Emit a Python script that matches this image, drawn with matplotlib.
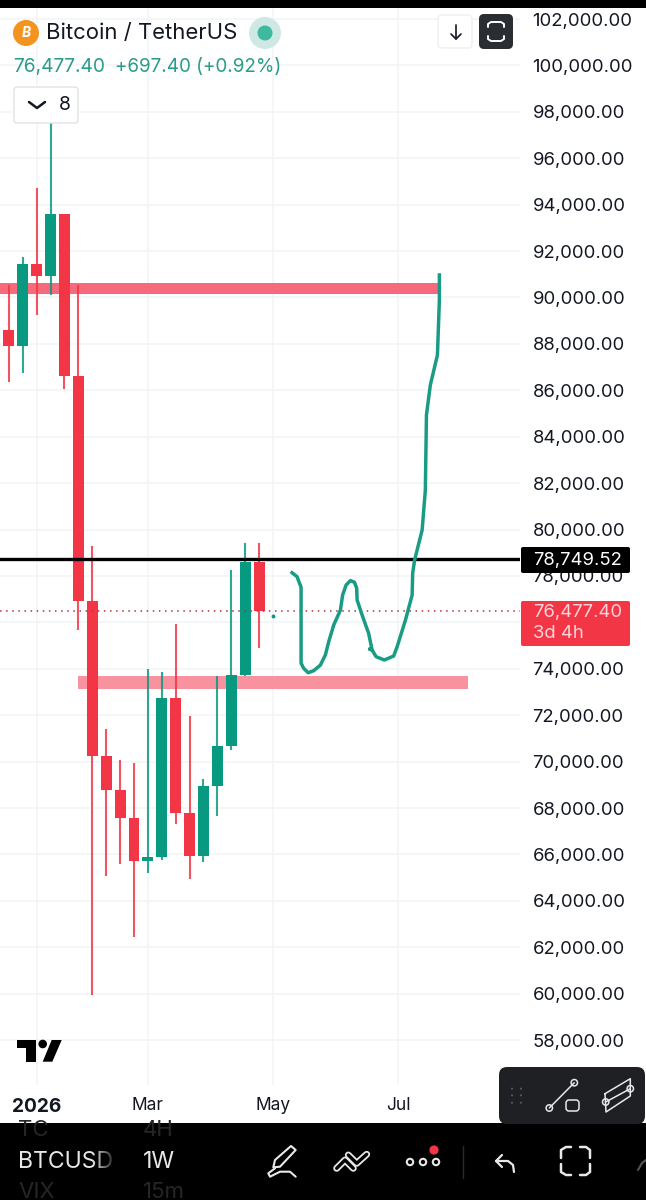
import numpy as np
import matplotlib.pyplot as plt
from matplotlib.patches import Circle, FancyBboxPatch, Polygon, Rectangle

plt.rcParams['font.family'] = ['Inter', 'DejaVu Sans']

# Weekly candles
opens = [88600, 87910, 91440, 90930, 93600, 86620, 76920, 70240, 68780, 67570,
         65720, 65890, 72740, 67790, 65930, 68950, 70670, 73730, 78600]
highs = [90540, 91750, 94720, 97860, 93600, 90540, 79290, 71410, 70070, 69940,
         73990, 73860, 75930, 71970, 69250, 73690, 78260, 79420, 79420]
lows = [86360, 86750, 89250, 90110, 86060, 75670, 59950, 65070, 65590, 62440,
        65200, 65760, 67310, 64940, 65680, 67660, 70500, 73690, 74900]
closes = [87910, 91440, 90930, 93600, 86620, 76920, 70240, 68780, 67570, 65720,
          65890, 72740, 67790, 65930, 68950, 70670, 73730, 78600, 76480]

price_ticks = list(range(58000, 102001, 2000))
hidden_tick = 76000  # sits behind the last price label
date_weeks = [2, 10, 19, 28]
date_labels = ['2026', 'Mar', 'May', 'Jul']

# Levels and the hand drawn path
last_price = 76477.40
black_level = 78749.52
upper_zone = (90150, 90620, -0.64, 30.9)
lower_zone = (73130, 73690, 5.0, 33.05)
path_weeks = [20.37, 20.73, 21.02, 21.02, 21.21, 21.53, 21.93, 22.41, 22.77, 23.01, 23.37, 23.85,
              24.01, 24.26, 24.57, 24.86, 25.02, 25.05, 25.41, 25.88, 26.13, 25.95, 26.13, 26.42,
              27.01, 27.68, 27.93, 28.53, 29.01, 29.05, 29.19, 29.73, 29.96, 30.04, 30.32, 30.83,
              30.97, 30.97]
path_prices = [78140, 77970, 77510, 74240, 74020, 73830, 73920, 74160, 74600, 75170, 75890, 76530,
               77180, 77610, 77800, 77730, 77470, 76970, 76320, 75530, 74810, 74850, 74810, 74520,
               74380, 74550, 74950, 76100, 77180, 78120, 78690, 79980, 81700, 84940, 86230, 87520,
               89890, 90970]

green = '#089981'
red = '#f23645'
ink = '#131722'

fig = plt.figure(figsize=(6.46, 12), dpi=100, facecolor='white')

# chart pane: x 0-520, y 8-1085 in pixels
ax = fig.add_axes([0, 1 - 1085 / 1200, 520 / 646, 1077 / 1200])
ax.set_xlim(-0.64, 36.77)
ax.set_ylim(56066, 102474)
for s in ax.spines.values():
    s.set_visible(False)
ax.set_axisbelow(True)
ax.grid(color='#f3f4f6', lw=1.1)
ax.yaxis.tick_right()
ax.set_yticks(price_ticks)
ax.set_yticklabels(['' if p == hidden_tick else '{:,.2f}'.format(p) for p in price_ticks],
                   fontsize=13.3, color=ink)
ax.set_xticks(date_weeks)
ax.set_xticklabels(date_labels, fontsize=12.5, color=ink)
ax.get_xticklabels()[0].set_fontweight('bold')
ax.get_xticklabels()[0].set_fontsize(13.8)
ax.tick_params(length=0)
ax.tick_params(axis='y', pad=9)
ax.tick_params(axis='x', pad=9)

for zone, col in [(upper_zone, '#f76a7c'), (lower_zone, '#f8929e')]:
    ax.add_patch(Rectangle((zone[2], zone[0]), zone[3] - zone[2], zone[1] - zone[0], fc=col, ec='none', zorder=1))

weeks = np.arange(len(opens))
colors = [green if c >= o else red for o, c in zip(opens, closes)]
bottoms = np.minimum(opens, closes)
heights = np.abs(np.array(closes) - np.array(opens))
ax.vlines(weeks, lows, highs, colors=colors, lw=1.5, alpha=0.85, zorder=2)
ax.bar(weeks, heights, bottom=bottoms, width=0.79, color=colors, zorder=3)
ax.plot([19], [76270], 'o', ms=1.8, color=green, zorder=3)

ax.axhline(black_level, color='black', lw=2.4, zorder=4)
ax.axhline(last_price, color='#b5303f', lw=1.1, ls=(0, (1, 3)), zorder=4)
ax.plot(path_weeks, path_prices, color='#1a9c84', lw=2.5, solid_joinstyle='round', zorder=5)

# screen furniture, in pixel coordinates
ui = fig.add_axes([0, 0, 1, 1], zorder=10)
ui.set_xlim(0, 646)
ui.set_ylim(1200, 0)
ui.axis('off')


def box(x0, y0, x1, y1, fc, ec='none', r=4, lw=1.0):
    ui.add_patch(FancyBboxPatch((x0 + r, y0 + r), x1 - x0 - 2 * r, y1 - y0 - 2 * r,
                                boxstyle='round,pad={},rounding_size={}'.format(r, r), fc=fc, ec=ec, lw=lw))


def stroke(xs, ys, col='white', lw=1.4):
    ui.plot(xs, ys, color=col, lw=lw, solid_capstyle='round', solid_joinstyle='round')


ui.add_patch(Rectangle((0, 0), 646, 7.5, fc='black', ec='none'))

# legend header
ui.add_patch(Circle((26, 33), 13, fc='#f2941d', ec='none'))
ui.text(26, 33, 'B', color='white', fontsize=10, fontweight='bold', style='italic', ha='center', va='center')
ui.text(46, 33, 'Bitcoin / TetherUS', color=ink, fontsize=15.9, ha='left', va='center')
ui.add_patch(Circle((265, 33), 16, fc='#d0e8e4', ec='none'))
ui.add_patch(Circle((265, 33), 7.5, fc='#3fb8a0', ec='none'))
ui.text(13, 67, '76,477.40', color='#2a9d8a', fontsize=13.8, ha='left', va='center')
ui.text(115, 67, '+697.40 (+0.92%)', color='#2a9d8a', fontsize=13.6, ha='left', va='center')
box(14, 87, 78, 123, 'white', '#e0e3e6', r=3)
stroke([29, 37, 45], [102, 108, 102], ink, 1.8)
ui.text(65, 105, '8', color=ink, fontsize=14, ha='center', va='center')

# top right buttons
box(438, 15, 472, 48, 'white', '#eeeff1', r=4)
stroke([456, 456], [25, 39], ink, 1.2)
stroke([451, 456, 461], [34, 39, 34], ink, 1.2)
box(479, 14, 513, 49, '#2a2e33', r=5)
stroke([488, 488, 491, 501, 504, 504], [27, 24, 22, 22, 24, 27])
stroke([488, 488, 491, 501, 504, 504], [36, 39, 41, 41, 39, 36])

# price labels
box(521, 547, 630, 573, 'black', r=2)
ui.text(533, 560, '78,749.52', color='white', fontsize=13.3, ha='left', va='center')
box(521, 601, 630, 646, red, r=2)
ui.text(533, 612, '76,477.40', color='#fbd5d9', fontsize=13.3, ha='left', va='center')
ui.text(533, 633, '3d 4h', color='#fbd5d9', fontsize=13.3, ha='left', va='center')

# logo
ui.add_patch(Polygon([(17.3, 1040), (36, 1040), (36, 1061.7), (26, 1061.7), (26, 1048.3), (17.3, 1048.3)],
                     fc='black', ec='none'))
ui.add_patch(Circle((42.7, 1044), 4.3, fc='black', ec='none'))
ui.add_patch(Polygon([(51.7, 1040), (61.7, 1040), (52.3, 1061.7), (42.7, 1061.7)], fc='black', ec='none'))

# bottom toolbar
bar = Rectangle((0, 1123), 646, 77, fc='black', ec='none')
ui.add_patch(bar)
for x, y, s in [(18, 1130, 'TC'), (143, 1130, '4H'), (18, 1192, 'VIX'), (143, 1192, '15m')]:
    t = ui.text(x, y, s, color='#262626', fontsize=16, ha='left', va='center')
    t.set_clip_path(bar)
ui.text(18, 1162, 'BTCUSD', color='#e8e8e8', fontsize=16.6, ha='left', va='center')
fade = np.zeros((1, 40, 4))
fade[0, :, 3] = np.linspace(0, 1, 40)
ui.imshow(fade, extent=(92, 118, 1185, 1140), aspect='auto', zorder=5)
ui.add_patch(Rectangle((118, 1140), 20, 45, fc='black', ec='none', zorder=5))
ui.set_xlim(0, 646)
ui.set_ylim(1200, 0)
ui.text(143, 1162, '1W', color='#e8e8e8', fontsize=16.6, ha='left', va='center')

# pen
ui.add_patch(Polygon([(291, 1146), (295.7, 1150), (280, 1166.7), (273.3, 1167.3), (275, 1160)],
                     fc='black', ec='#e8e8e8', lw=1.5, joinstyle='round'))
stroke([275, 268.3, 270, 280, 290, 295.7], [1168.3, 1173.3, 1176.7, 1171.7, 1171.7, 1176.7], '#e8e8e8', 1.5)
# chevrons
for xs, ys in [([336.7, 345, 353.3], [1168.3, 1160, 1168.3]), ([348.3, 356.7, 366.7], [1155, 1163.3, 1154.3])]:
    stroke(xs, ys, '#e8e8e8', 5.0)
    stroke(xs, ys, 'black', 2.4)
# dots
for x in [410, 423, 436]:
    ui.add_patch(Circle((x, 1162), 3.2, fc='black', ec='#e8e8e8', lw=1.5))
ui.add_patch(Circle((434, 1150), 4.6, fc=red, ec='none'))
stroke([463, 463], [1146, 1178], '#2b2b2b', 1.0)
# undo
stroke([502, 496, 502], [1155, 1161, 1167], '#e8e8e8', 1.6)
stroke([496, 508, 513, 514], [1161, 1161, 1165, 1172], '#e8e8e8', 1.6)
# fullscreen corners
stroke([561, 561, 566, 571], [1158, 1150, 1147, 1147], '#e8e8e8', 1.8)
stroke([580, 586, 590, 590], [1147, 1147, 1150, 1158], '#e8e8e8', 1.8)
stroke([561, 561, 566, 571], [1164, 1172, 1175, 1175], '#e8e8e8', 1.8)
stroke([580, 586, 590, 590], [1175, 1175, 1172, 1164], '#e8e8e8', 1.8)
stroke([638, 642, 646], [1170, 1163, 1160], '#555555', 1.5)

# drawing tools panel
box(499, 1067, 645, 1124, '#1f2023', r=8)
for x in [512, 521]:
    for y in [1088.7, 1095.3, 1102.7]:
        ui.add_patch(Circle((x, y), 1.1, fc='#555555', ec='none'))
stroke([549.3, 574.3], [1108, 1082.7], '#e8e8e8', 1.1)
ui.add_patch(Circle((549.3, 1108), 3.2, fc='#1f2023', ec='#e8e8e8', lw=1.1))
ui.add_patch(Circle((574.3, 1082.7), 3.2, fc='#1f2023', ec='#e8e8e8', lw=1.1))
box(566, 1100, 579, 1111, '#1f2023', '#e8e8e8', r=3, lw=1.1)
stroke([605, 630.3, 630.3, 606, 605], [1093.7, 1078.7, 1096, 1112, 1093.7], '#e8e8e8', 1.1)
stroke([605.7, 630.3], [1102, 1088.7], '#e8e8e8', 1.1)
ui.add_patch(Circle((605.7, 1102), 3.2, fc='#1f2023', ec='#e8e8e8', lw=1.1))
ui.add_patch(Circle((630.3, 1088.7), 3.2, fc='#1f2023', ec='#e8e8e8', lw=1.1))

fig.savefig('out.png', dpi=100)
